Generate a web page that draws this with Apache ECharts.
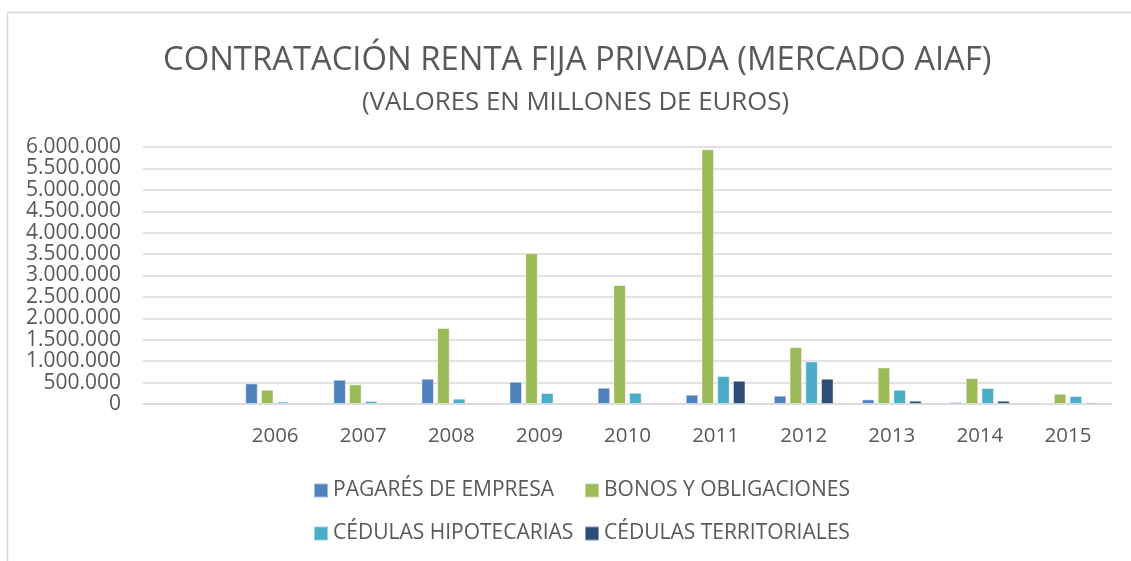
<!DOCTYPE html>
<html>
<head>
<meta charset="utf-8">
<script src="https://cdn.jsdelivr.net/npm/echarts@6/dist/echarts.min.js"></script>
<style>
  html, body { margin: 0; padding: 0; background: #fff; }
  #chart { width: 1131px; height: 561px; }
</style>
</head>
<body>
<div id="chart"></div>
<script>
// ─── data (valores en millones de euros) ───
const YEARS = ["2006", "2007", "2008", "2009", "2010", "2011", "2012", "2013", "2014", "2015"];
const PAGARES = [480000, 566000, 590000, 520000, 380000, 217000, 194000, 108000, 47000, 30000];
const BONOS = [333000, 458000, 1777000, 3517000, 2779000, 5946000, 1328000, 853000, 605000, 240000];
const HIPOTECARIAS = [55000, 70000, 124000, 256000, 263000, 652000, 993000, 333000, 373000, 186000];
const TERRITORIALES = [null, null, null, null, null, 543000, 590000, 77000, 77000, 37000];
const SERIES_NAMES = ["PAGARÉS DE EMPRESA", "BONOS Y OBLIGACIONES", "CÉDULAS HIPOTECARIAS", "CÉDULAS TERRITORIALES"];
const COLORS = ["#4f81bd", "#9bbb59", "#4bacc6", "#2c4d75"];

// Excel deja una categoría vacía antes de 2006
const categories = [""].concat(YEARS);
const withBlank = (arr) => [null].concat(arr);

const TEXT = "#595959";
const FONT = "'Open Sans', 'DejaVu Sans', sans-serif";

// 6000000 -> "6.000.000"
const fmt = (v) => String(v).replace(/\B(?=(\d{3})+(?!\d))/g, ".");

const chart = echarts.init(document.getElementById("chart"));

const seriesData = [PAGARES, BONOS, HIPOTECARIAS, TERRITORIALES].map((vals, i) => ({
  name: SERIES_NAMES[i],
  type: "bar",
  data: withBlank(vals),
  barWidth: 12.5,
  barGap: "26%",
  itemStyle: { color: COLORS[i], borderColor: "rgba(255,255,255,0.45)", borderWidth: 1 },
}));

const legendText = { color: TEXT, fontFamily: FONT, fontSize: 21 };

chart.setOption({
  animation: false,
  backgroundColor: "#fff",
  graphic: [{
    type: "polyline",
    shape: { points: [[7.5, 561], [7.5, 12.5], [1131, 12.5]] },
    style: { stroke: "#d9d9d9", lineWidth: 1.5, fill: null },
    silent: true,
  }],
  title: [
    {
      text: "CONTRATACIÓN RENTA FIJA PRIVADA (MERCADO AIAF)",
      left: 158,
      top: 39,
      textStyle: { color: TEXT, fontFamily: FONT, fontSize: 32.8, fontWeight: "normal" },
    },
    {
      text: "(VALORES EN MILLONES DE EUROS)",
      left: 357,
      top: 85,
      textStyle: { color: TEXT, fontFamily: FONT, fontSize: 25.8, fontWeight: "normal" },
    },
  ],
  legend: [
    {
      orient: "vertical",
      left: 308,
      top: 475,
      itemWidth: 14,
      itemHeight: 14,
      itemGap: 22,
      icon: "rect",
      data: [SERIES_NAMES[0], SERIES_NAMES[2]],
      textStyle: legendText,
    },
    {
      orient: "vertical",
      left: 579,
      top: 475,
      itemWidth: 14,
      itemHeight: 14,
      itemGap: 22,
      icon: "rect",
      data: [SERIES_NAMES[1], SERIES_NAMES[3]],
      textStyle: legendText,
    },
  ],
  grid: { left: 143, right: 19, top: 147, bottom: 157 },
  xAxis: {
    type: "category",
    data: categories,
    axisTick: { show: false },
    axisLine: { lineStyle: { color: "#d9d9d9", width: 1.5 } },
    axisLabel: { color: TEXT, fontFamily: FONT, fontSize: 20.5, margin: 22 },
  },
  yAxis: {
    type: "value",
    min: 0,
    max: 6000000,
    interval: 500000,
    axisLine: { show: false },
    axisTick: { show: false },
    axisLabel: {
      color: TEXT, fontFamily: FONT, fontSize: 21, margin: 22, formatter: fmt,
      showMinLabel: true, showMaxLabel: true, hideOverlap: false,
    },
    splitLine: { lineStyle: { color: "#d9d9d9", width: 1.5 } },
  },
  series: seriesData,
});
</script>
</body>
</html>
